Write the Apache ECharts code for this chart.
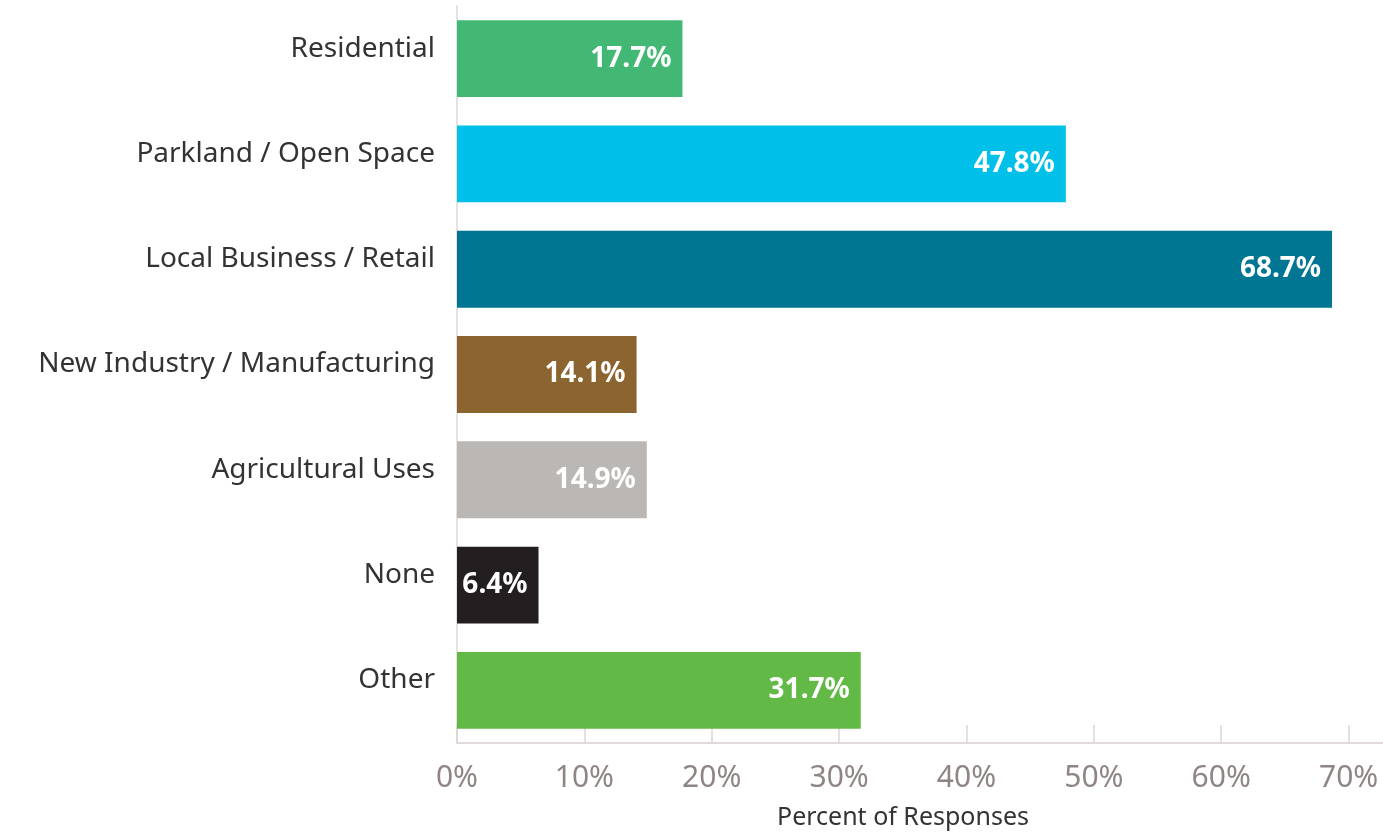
<!DOCTYPE html>
<html>
<head>
<meta charset="utf-8">
<script src="https://cdn.jsdelivr.net/npm/echarts@6/dist/echarts.min.js"></script>
<style>
html,body{margin:0;padding:0;background:#fff;}
#chart{width:1383px;height:835px;}
</style>
</head>
<body>
<div id="chart"></div>
<script>
const categories = ["Residential", "Parkland / Open Space", "Local Business / Retail", "New Industry / Manufacturing", "Agricultural Uses", "None", "Other"];
const values = [17.7, 47.8, 68.7, 14.1, 14.9, 6.4, 31.7];
const barColors = ["#42b874", "#00bfe8", "#007693", "#8b6430", "#bbb7b4", "#231f20", "#62b946"];
const xTicks = [0, 10, 20, 30, 40, 50, 60, 70];

const chart = echarts.init(document.getElementById('chart'));
chart.setOption({
  animation: false,
  backgroundColor: '#fff',
  grid: { left: 457, right: 0, top: 6, bottom: 92, containLabel: false, outerBoundsMode: 'none' },
  xAxis: {
    type: 'value',
    min: 0,
    max: 72.7,
    name: 'Percent of Responses',
    nameLocation: 'middle',
    nameGap: 62,
    nameTextStyle: { fontFamily: 'Noto Sans', fontSize: 25, color: '#333', padding: [0, 34, 0, 0] },
    axisLine: { show: true, lineStyle: { color: '#e2dada', width: 2 } },
    axisTick: { show: true, inside: true, length: 18, customValues: xTicks, lineStyle: { color: '#dcd6d6', width: 1.5 } },
    axisLabel: { customValues: xTicks, formatter: v => v + '%', margin: 20, fontFamily: 'Noto Sans', fontSize: 30, color: '#8f8585' },
    splitLine: { show: false }
  },
  yAxis: {
    type: 'category',
    data: categories,
    inverse: true,
    axisLine: { show: true, lineStyle: { color: '#e6e2e2', width: 2 } },
    axisTick: { show: false },
    axisLabel: { margin: 22, fontFamily: 'Noto Sans', fontSize: 28, color: '#333', verticalAlign: 'bottom', lineHeight: 20 }
  },
  series: [{
    type: 'bar',
    data: values.map((v, i) => ({ value: v, itemStyle: { color: barColors[i] } })),
    barCategoryGap: '27%',
    label: {
      show: true,
      position: 'insideRight',
      distance: 11,
      formatter: p => p.value + '%',
      fontFamily: 'Noto Sans',
      fontWeight: 'bold',
      fontSize: 28,
      color: '#fff'
    }
  }]
});
</script>
</body>
</html>
